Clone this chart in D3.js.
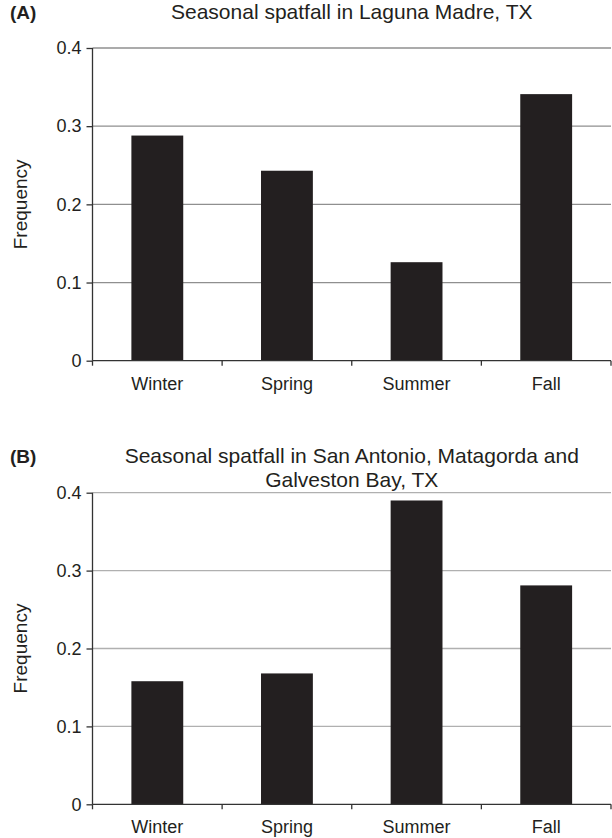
<!DOCTYPE html>
<html>
<head>
<meta charset="utf-8">
<script src="https://cdn.jsdelivr.net/npm/d3@7"></script>
<style>
  body { margin: 0; background: #fff; }
  svg text { font-family: "Liberation Sans", Arial, sans-serif; fill: #231f20; }
</style>
</head>
<body>
<svg id="chart" width="612" height="838"></svg>
<script>
  // Data
  var seasons = ['Winter', 'Spring', 'Summer', 'Fall'];
  var lagunaMadre = [0.288, 0.243, 0.126, 0.341];
  var galvestonBays = [0.158, 0.168, 0.390, 0.281];
  var yTicks = [0, 0.1, 0.2, 0.3, 0.4];
  var yTickLabels = ['0', '0.1', '0.2', '0.3', '0.4'];

  var svg = d3.select('#chart');

  // Draws one panel; top/bottom are pixel rows of 0.4 and 0
  function drawPanel(values, top, bottom, tag, titleLines, titleY, gridColor) {
    var left = 92.5, right = 611;

    var x = d3.scaleBand().domain(seasons).range([left, right]).padding(0);
    var y = d3.scaleLinear().domain([0, 0.4]).range([bottom, top]);

    var g = svg.append('g');

    // Gridlines
    g.selectAll('line.grid')
      .data(yTicks.slice(1))
      .enter().append('line')
      .attr('class', 'grid')
      .attr('x1', left).attr('x2', right)
      .attr('y1', function (d) { return y(d); })
      .attr('y2', function (d) { return y(d); })
      .attr('stroke', gridColor)
      .attr('stroke-width', 1.3);

    // Bars, 40% of each band
    var barW = x.bandwidth() * 0.4;
    g.selectAll('rect.bar')
      .data(values)
      .enter().append('rect')
      .attr('class', 'bar')
      .attr('x', function (d, i) { return x(seasons[i]) + (x.bandwidth() - barW) / 2; })
      .attr('y', function (d) { return y(d); })
      .attr('width', barW)
      .attr('height', function (d) { return bottom - y(d); })
      .attr('fill', '#231f20');

    // Y axis
    var yAxis = d3.axisLeft(y)
      .tickValues(yTicks)
      .tickFormat(function (d, i) { return yTickLabels[i]; })
      .tickSize(6)
      .tickPadding(5);
    var ya = g.append('g').attr('transform', 'translate(' + left + ',0)').call(yAxis);
    ya.select('.domain').attr('stroke', '#333').attr('stroke-width', 1.3).attr('d', 'M0,' + top + 'V' + bottom);
    ya.selectAll('.tick line').attr('stroke', '#333').attr('stroke-width', 1.3);
    ya.selectAll('.tick text').attr('font-size', 18).attr('fill', '#231f20')
      .style('font-family', '"Liberation Sans", Arial, sans-serif');

    // X axis with ticks at band edges
    var edges = seasons.map(function (s) { return x(s); }).concat([right]);
    g.append('line')
      .attr('x1', left).attr('x2', right)
      .attr('y1', bottom).attr('y2', bottom)
      .attr('stroke', '#333').attr('stroke-width', 1.3);
    g.selectAll('line.xtick')
      .data(edges)
      .enter().append('line')
      .attr('class', 'xtick')
      .attr('x1', function (d) { return d; }).attr('x2', function (d) { return d; })
      .attr('y1', bottom).attr('y2', bottom + 5)
      .attr('stroke', '#333').attr('stroke-width', 1.3);
    g.selectAll('text.xlabel')
      .data(seasons)
      .enter().append('text')
      .attr('class', 'xlabel')
      .attr('x', function (d) { return x(d) + x.bandwidth() / 2; })
      .attr('y', bottom + 29)
      .attr('text-anchor', 'middle')
      .attr('font-size', 18)
      .text(function (d) { return d; });

    // Y label
    g.append('text')
      .attr('transform', 'translate(27,' + ((top + bottom) / 2) + ') rotate(-90)')
      .attr('text-anchor', 'middle')
      .attr('font-size', 19)
      .text('Frequency');

    // Panel tag and title
    g.append('text')
      .attr('x', 10).attr('y', titleY)
      .attr('font-size', 19)
      .attr('font-weight', 'bold')
      .text(tag);
    titleLines.forEach(function (line, i) {
      g.append('text')
        .attr('x', (left + right) / 2)
        .attr('y', titleY + i * 24)
        .attr('text-anchor', 'middle')
        .attr('font-size', 21)
        .text(line);
    });
  }

  drawPanel(lagunaMadre, 48, 360.7, '(A)', ['Seasonal spatfall in Laguna Madre, TX'], 19, '#8f8f8f');
  drawPanel(galvestonBays, 492.7, 804.3, '(B)',
    ['Seasonal spatfall in San Antonio, Matagorda and', 'Galveston Bay, TX'], 463, '#b0b0b0');
</script>
</body>
</html>
